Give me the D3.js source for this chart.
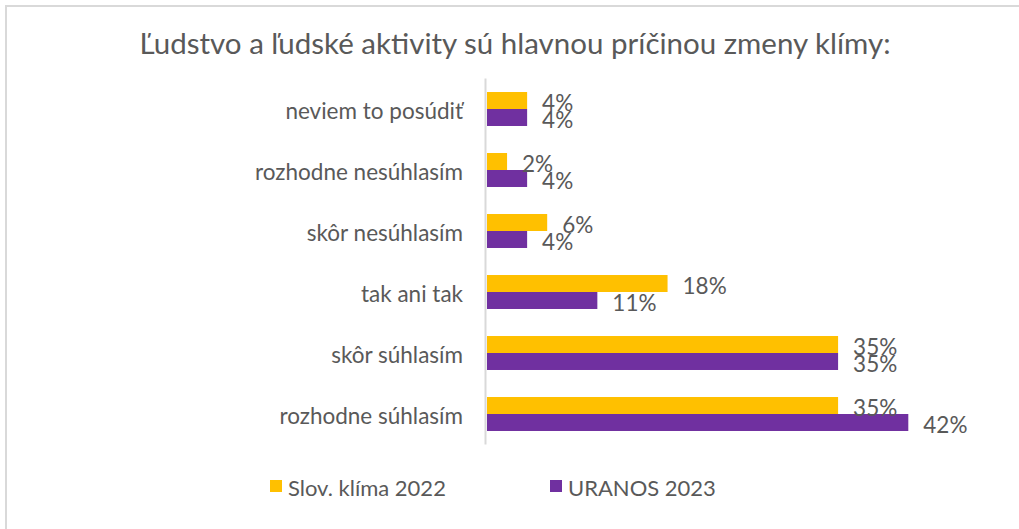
<!DOCTYPE html>
<html>
<head>
<meta charset="utf-8">
<script src="https://cdn.jsdelivr.net/npm/d3@7"></script>
<style>
  body { margin: 0; background: #fff; }
  text { font-family: Lato, "Open Sans", sans-serif; fill: #595959; }
</style>
</head>
<body>
<svg id="chart" width="1019" height="529"></svg>
<script>
var title = 'Ľudstvo a ľudské aktivity sú hlavnou príčinou zmeny klímy:';
var categories = ['neviem to posúdiť', 'rozhodne nesúhlasím', 'skôr nesúhlasím', 'tak ani tak', 'skôr súhlasím', 'rozhodne súhlasím'];
var seriesNames = ['Slov. klíma 2022', 'URANOS 2023'];
var klima2022 = [4, 2, 6, 18, 35, 35];
var uranos2023 = [4, 4, 4, 11, 35, 42];
var colors = ['#FFC000', '#7030A0'];

var svg = d3.select('#chart');

// frame of the chart area (only left/top edges show in the crop)
svg.append('rect')
    .attr('x', 6).attr('y', 6)
    .attr('width', 1100).attr('height', 600)
    .attr('fill', '#fff')
    .attr('stroke', '#d9d9d9')
    .attr('stroke-width', 2);

svg.append('text')
    .attr('x', 515).attr('y', 54)
    .attr('text-anchor', 'middle')
    .style('font-size', '29.5px')
    .text(title);

var x = d3.scaleLinear().domain([0, 45]).range([487, 938.4]);
var y = d3.scaleBand().domain(categories).range([78.5, 444.5])
    .paddingInner(0.443).paddingOuter(0.2215);
var sub = d3.scaleBand().domain([0, 1]).range([0, y.bandwidth()]);

var rows = categories.map(function (c, i) {
    return { cat: c, values: [klima2022[i], uranos2023[i]] };
});

var groups = svg.selectAll('.grp')
    .data(rows)
    .enter()
    .append('g')
    .attr('class', 'grp')
    .attr('transform', function (d) { return 'translate(0,' + y(d.cat) + ')'; });

groups.selectAll('rect')
    .data(function (d) { return d.values; })
    .enter()
    .append('rect')
    .attr('x', x(0))
    .attr('y', function (d, i) { return sub(i); })
    .attr('width', function (d) { return x(d) - x(0); })
    .attr('height', sub.bandwidth())
    .attr('fill', function (d, i) { return colors[i]; });

groups.selectAll('.lbl')
    .data(function (d) { return d.values; })
    .enter()
    .append('text')
    .attr('class', 'lbl')
    .attr('x', function (d) { return x(d) + 15; })
    .attr('y', function (d, i) { return sub(i) + sub.bandwidth() / 2 + 2; })
    .attr('dominant-baseline', 'central')
    .style('font-size', '22.5px')
    .text(function (d) { return d + '%'; });

// category axis
svg.append('line')
    .attr('x1', 485.5).attr('x2', 485.5)
    .attr('y1', y.range()[0]).attr('y2', y.range()[1])
    .attr('stroke', '#d9d9d9')
    .attr('stroke-width', 2);

svg.selectAll('.cat')
    .data(categories)
    .enter()
    .append('text')
    .attr('class', 'cat')
    .attr('x', 463)
    .attr('y', function (d) { return y(d) + y.bandwidth() / 2 + 1; })
    .attr('text-anchor', 'end')
    .attr('dominant-baseline', 'central')
    .style('font-size', '22.5px')
    .text(function (d) { return d; });

// legend
var legendX = [270, 550];
var legend = svg.selectAll('.leg')
    .data(seriesNames)
    .enter()
    .append('g')
    .attr('class', 'leg')
    .attr('transform', function (d, i) { return 'translate(' + legendX[i] + ',480)'; });
legend.append('rect')
    .attr('width', 12).attr('height', 12)
    .attr('fill', function (d, i) { return colors[i]; });
legend.append('text')
    .attr('x', 18).attr('y', 7)
    .attr('dominant-baseline', 'central')
    .style('font-size', '22px')
    .text(function (d) { return d; });
</script>
</body>
</html>
